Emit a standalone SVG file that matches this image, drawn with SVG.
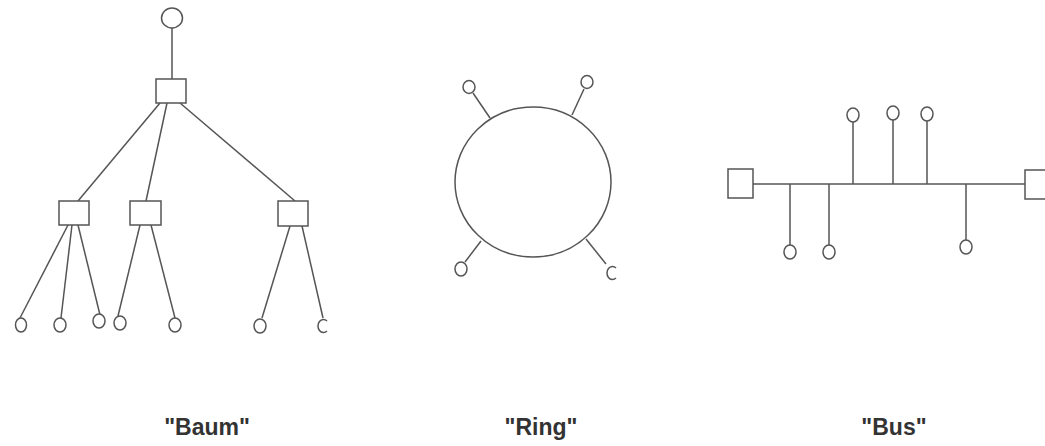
<svg xmlns="http://www.w3.org/2000/svg" width="1045" height="446" viewBox="0 0 1045 446">
<style>
.ln{stroke:#555;stroke-width:1.5;fill:none}
.nd{stroke:#555;stroke-width:1.5;fill:#fff}
.lbl{font-family:"Liberation Sans",Arial,sans-serif;font-weight:bold;font-size:23px;fill:#333;text-anchor:middle}
</style>
<rect width="1045" height="446" fill="#fff"/>
<g id="connectors">
<line class="ln" x1="172" y1="28" x2="172" y2="79"/>
<line class="ln" x1="160" y1="103" x2="78" y2="201"/>
<line class="ln" x1="167" y1="103" x2="146" y2="201"/>
<line class="ln" x1="180" y1="103" x2="295" y2="201"/>
<line class="ln" x1="68" y1="225" x2="20" y2="318"/>
<line class="ln" x1="72" y1="225" x2="61" y2="318"/>
<line class="ln" x1="78" y1="225" x2="100" y2="315"/>
<line class="ln" x1="140" y1="225" x2="118" y2="316"/>
<line class="ln" x1="151" y1="225" x2="175" y2="318"/>
<line class="ln" x1="290" y1="226" x2="262" y2="318"/>
<line class="ln" x1="302" y1="226" x2="323" y2="318"/>
<line class="ln" x1="473" y1="93" x2="490" y2="118"/>
<line class="ln" x1="584" y1="89" x2="572" y2="115"/>
<line class="ln" x1="465" y1="262" x2="481" y2="241"/>
<line class="ln" x1="586" y1="239" x2="606" y2="264"/>
<line class="ln" x1="753" y1="184" x2="1025" y2="184"/>
<line class="ln" x1="853" y1="122" x2="853" y2="184"/>
<line class="ln" x1="893" y1="120" x2="893" y2="184"/>
<line class="ln" x1="927" y1="121" x2="927" y2="184"/>
<line class="ln" x1="790" y1="184" x2="790" y2="245"/>
<line class="ln" x1="829" y1="184" x2="829" y2="245"/>
<line class="ln" x1="966" y1="184" x2="966" y2="240"/>
</g>
<g id="baum">
<ellipse id="baum-root" class="nd" cx="172" cy="18" rx="10.5" ry="10"/>
<rect id="baum-hub" class="nd" x="156" y="79" width="30" height="24"/>
<rect id="baum-b1" class="nd" x="59" y="201" width="30" height="24"/>
<rect id="baum-b2" class="nd" x="130" y="201" width="31" height="24"/>
<rect id="baum-b3" class="nd" x="278" y="201" width="30" height="25"/>
<ellipse id="baum-l1" class="nd" cx="21" cy="325" rx="5.5" ry="7"/>
<ellipse id="baum-l2" class="nd" cx="60" cy="325" rx="6" ry="7"/>
<ellipse id="baum-l3" class="nd" cx="99" cy="321" rx="6" ry="7"/>
<ellipse id="baum-l4" class="nd" cx="120" cy="323" rx="6" ry="7"/>
<ellipse id="baum-l5" class="nd" cx="175" cy="325" rx="6" ry="7"/>
<ellipse id="baum-l6" class="nd" cx="260" cy="326" rx="6" ry="7"/>
<path id="baum-l7" class="ln" d="M327 321 A5.5 6.5 0 1 0 327 331"/>
<text class="lbl" x="207" y="435">"Baum"</text>
</g>
<g id="ring">
<ellipse id="ring-main" class="ln" cx="533" cy="182" rx="78" ry="75"/>
<ellipse id="ring-n1" class="nd" cx="469" cy="87" rx="6" ry="6.5"/>
<ellipse id="ring-n2" class="nd" cx="587" cy="82" rx="6" ry="6.5"/>
<ellipse id="ring-n3" class="nd" cx="461" cy="269" rx="6" ry="7"/>
<path id="ring-n4" class="ln" d="M616 268 A5.5 6.5 0 1 0 616 278"/>
<text class="lbl" x="541" y="435">"Ring"</text>
</g>
<g id="bus">
<rect id="bus-left" class="nd" x="728" y="169" width="25" height="29"/>
<rect id="bus-right" class="nd" x="1025" y="170" width="25" height="29"/>
<ellipse id="bus-t1" class="nd" cx="853" cy="115" rx="6" ry="7"/>
<ellipse id="bus-t2" class="nd" cx="893" cy="113" rx="6" ry="7"/>
<ellipse id="bus-t3" class="nd" cx="927" cy="114" rx="6" ry="7"/>
<ellipse id="bus-b1" class="nd" cx="790" cy="252" rx="6" ry="7"/>
<ellipse id="bus-b2" class="nd" cx="829" cy="252" rx="6" ry="7"/>
<ellipse id="bus-b3" class="nd" cx="966" cy="247" rx="6" ry="7"/>
<text class="lbl" x="894" y="435">"Bus"</text>
</g>
</svg>
